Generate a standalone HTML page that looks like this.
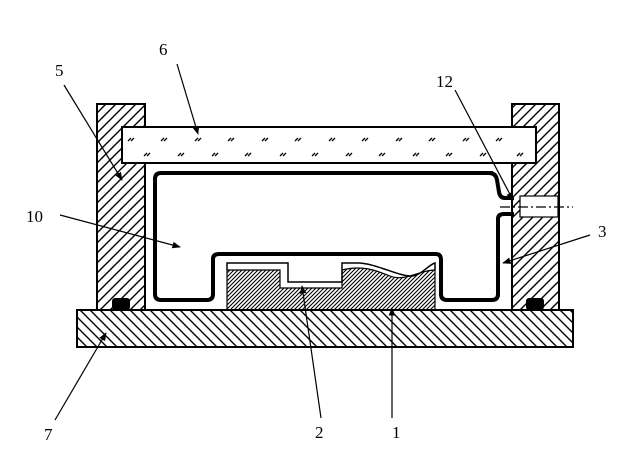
<!DOCTYPE html>
<html><head><style>
body{margin:0;background:#fff;width:628px;height:467px;overflow:hidden}
text{font-family:"Liberation Serif",serif;font-size:17px;fill:#000}
</style></head><body>
<svg width="628" height="467" viewBox="0 0 628 467" xmlns="http://www.w3.org/2000/svg">
<defs>
<pattern id="h1" patternUnits="userSpaceOnUse" width="10" height="10">
<path d="M0,10 L10,0 M-1,1 L1,-1 M9,11 L11,9" stroke="#000" stroke-width="1.4"/></pattern>
<pattern id="h2" patternUnits="userSpaceOnUse" width="10" height="10">
<path d="M0,0 L10,10 M-1,9 L1,11 M9,-1 L11,1" stroke="#000" stroke-width="1.4"/></pattern>
<pattern id="h3" patternUnits="userSpaceOnUse" width="4" height="4">
<path d="M0,4 L4,0 M-1,1 L1,-1 M3,5 L5,3" stroke="#000" stroke-width="1.1"/></pattern>
<marker id="a" viewBox="0 0 10 10" refX="9" refY="5" markerWidth="7" markerHeight="7" orient="auto"><path d="M0,1 L10,5 L0,9z" fill="#000"/></marker>
</defs>
<rect x="97" y="104" width="48" height="206" fill="url(#h1)" stroke="#000" stroke-width="2"/>
<rect x="512" y="104" width="47" height="206" fill="url(#h1)" stroke="#000" stroke-width="2"/>
<rect x="520" y="196" width="38" height="21" fill="#fff" stroke="#000" stroke-width="1.2"/>
<line x1="500" y1="207" x2="573" y2="207" stroke="#000" stroke-width="1.2" stroke-dasharray="10,3,2,3"/>
<rect x="122" y="127" width="414" height="36" fill="#fff" stroke="#000" stroke-width="2"/>
<g stroke="#000" stroke-width="1.3" fill="none">
<path d="M128,141l3,-3m0,3l3,-3 M161,141l3,-3m0,3l3,-3 M195,141l3,-3m0,3l3,-3 M228,141l3,-3m0,3l3,-3 M262,141l3,-3m0,3l3,-3 M295,141l3,-3m0,3l3,-3 M329,141l3,-3m0,3l3,-3 M362,141l3,-3m0,3l3,-3 M396,141l3,-3m0,3l3,-3 M429,141l3,-3m0,3l3,-3 M463,141l3,-3m0,3l3,-3 M496,141l3,-3m0,3l3,-3 M144,156l3,-3m0,3l3,-3 M178,156l3,-3m0,3l3,-3 M212,156l3,-3m0,3l3,-3 M245,156l3,-3m0,3l3,-3 M280,156l3,-3m0,3l3,-3 M312,156l3,-3m0,3l3,-3 M346,156l3,-3m0,3l3,-3 M379,156l3,-3m0,3l3,-3 M413,156l3,-3m0,3l3,-3 M446,156l3,-3m0,3l3,-3 M480,156l3,-3m0,3l3,-3 M517,156l3,-3m0,3l3,-3"/>
</g>
<rect x="77" y="310" width="496" height="37" fill="url(#h2)" stroke="#000" stroke-width="2"/>
<rect x="112" y="298" width="18" height="12" rx="3" fill="#000"/>
<rect x="526" y="298" width="18" height="12" rx="3" fill="#000"/>
<path d="M227,310 V270 H280 V288 H342 V270 C362,265 375,270 390,276 C405,282 420,270 435,270 V310 Z" fill="url(#h3)" stroke="#000" stroke-width="1.2"/>
<path d="M227,270 V263 H288 V282 H342 V263 H358 C375,263 400,277 412,276 C422,275 428,265 435,263 V270" fill="none" stroke="#000" stroke-width="1.5"/>
<path d="M493,173 H161 Q155,173 155,179 V294 Q155,300 161,300 H207 Q213,300 213,294 V259 Q213,254 219,254 H436 Q441,254 441,260 V294 Q441,300 447,300 H492 Q498,300 498,294 V219 Q498,214 504,214 H514 M514,198 H505 Q500,198 499,192 L497,180 Q496,173 489,173" fill="none" stroke="#000" stroke-width="4"/>
<g stroke="#000" stroke-width="1.2" fill="none" marker-end="url(#a)">
<line x1="64" y1="85" x2="122" y2="180"/>
<line x1="177" y1="64" x2="198" y2="134"/>
<line x1="455" y1="90" x2="513" y2="200"/>
<line x1="60" y1="215" x2="180" y2="247"/>
<line x1="590" y1="235" x2="503" y2="263"/>
<line x1="55" y1="420" x2="106" y2="333"/>
<line x1="321" y1="418" x2="302" y2="286"/>
<line x1="392" y1="418" x2="392" y2="308"/>
</g>
<text x="55" y="76">5</text>
<text x="159" y="55">6</text>
<text x="436" y="87">12</text>
<text x="26" y="222">10</text>
<text x="598" y="237">3</text>
<text x="44" y="440">7</text>
<text x="315" y="438">2</text>
<text x="392" y="438">1</text>
</svg>
</body></html>
